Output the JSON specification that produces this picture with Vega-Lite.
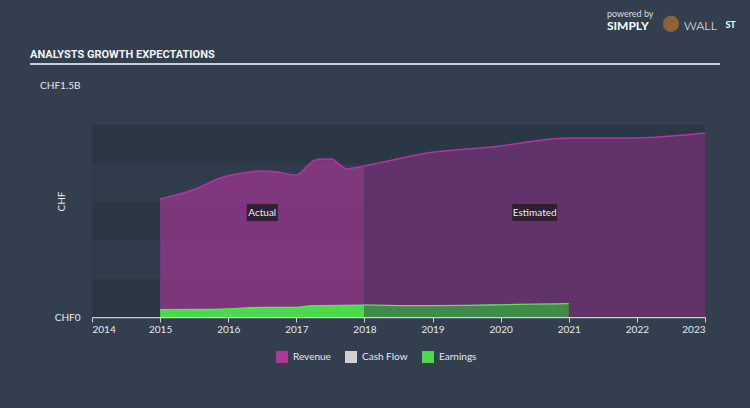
{
  "$schema": "https://vega.github.io/schema/vega-lite/v6.json",
  "width": 613,
  "height": 232,
  "autosize": {"type": "none"},
  "padding": {"left": 92, "top": 85, "right": 45, "bottom": 91},
  "background": "#333f4e",
  "config": {"view": {"stroke": null}, "font": "Lato"},
  "datasets": {
    "bands": [
      {"lo": 0, "hi": 248300000, "kind": "dark"},
      {"lo": 248300000, "hi": 496600000, "kind": "light"},
      {"lo": 496600000, "hi": 744900000, "kind": "dark"},
      {"lo": 744900000, "hi": 993200000, "kind": "light"},
      {"lo": 993200000, "hi": 1241500000, "kind": "dark"}
    ],
    "fin": [
      {"series": "Revenue", "phase": "Actual", "year": 2015.0, "value": 763000000},
      {"series": "Revenue", "phase": "Actual", "year": 2015.48, "value": 821000000},
      {"series": "Revenue", "phase": "Actual", "year": 2015.93, "value": 905000000},
      {"series": "Revenue", "phase": "Actual", "year": 2016.22, "value": 931000000},
      {"series": "Revenue", "phase": "Actual", "year": 2016.47, "value": 944000000},
      {"series": "Revenue", "phase": "Actual", "year": 2016.72, "value": 938000000},
      {"series": "Revenue", "phase": "Actual", "year": 2017.0, "value": 918000000},
      {"series": "Revenue", "phase": "Actual", "year": 2017.1, "value": 950000000},
      {"series": "Revenue", "phase": "Actual", "year": 2017.25, "value": 1009000000},
      {"series": "Revenue", "phase": "Actual", "year": 2017.35, "value": 1022000000},
      {"series": "Revenue", "phase": "Actual", "year": 2017.52, "value": 1022000000},
      {"series": "Revenue", "phase": "Actual", "year": 2017.64, "value": 983000000},
      {"series": "Revenue", "phase": "Actual", "year": 2017.74, "value": 957000000},
      {"series": "Revenue", "phase": "Actual", "year": 2017.83, "value": 963000000},
      {"series": "Revenue", "phase": "Actual", "year": 2018.0, "value": 976000000},
      {"series": "Revenue", "phase": "Estimated", "year": 2018.0, "value": 976000000},
      {"series": "Revenue", "phase": "Estimated", "year": 2018.28, "value": 1002000000},
      {"series": "Revenue", "phase": "Estimated", "year": 2018.92, "value": 1060000000},
      {"series": "Revenue", "phase": "Estimated", "year": 2019.5, "value": 1086000000},
      {"series": "Revenue", "phase": "Estimated", "year": 2020.0, "value": 1106000000},
      {"series": "Revenue", "phase": "Estimated", "year": 2020.5, "value": 1138000000},
      {"series": "Revenue", "phase": "Estimated", "year": 2021.0, "value": 1157000000},
      {"series": "Revenue", "phase": "Estimated", "year": 2022.0, "value": 1157000000},
      {"series": "Revenue", "phase": "Estimated", "year": 2022.5, "value": 1170000000},
      {"series": "Revenue", "phase": "Estimated", "year": 2023.0, "value": 1190000000},
      {"series": "Earnings", "phase": "Actual", "year": 2015.0, "value": 48000000},
      {"series": "Earnings", "phase": "Actual", "year": 2015.5, "value": 49000000},
      {"series": "Earnings", "phase": "Actual", "year": 2016.0, "value": 53000000},
      {"series": "Earnings", "phase": "Actual", "year": 2016.5, "value": 62000000},
      {"series": "Earnings", "phase": "Actual", "year": 2017.0, "value": 62000000},
      {"series": "Earnings", "phase": "Actual", "year": 2017.2, "value": 72000000},
      {"series": "Earnings", "phase": "Actual", "year": 2018.0, "value": 76000000},
      {"series": "Earnings", "phase": "Estimated", "year": 2018.0, "value": 78000000},
      {"series": "Earnings", "phase": "Estimated", "year": 2018.5, "value": 74000000},
      {"series": "Earnings", "phase": "Estimated", "year": 2019.0, "value": 73000000},
      {"series": "Earnings", "phase": "Estimated", "year": 2019.5, "value": 75000000},
      {"series": "Earnings", "phase": "Estimated", "year": 2020.0, "value": 79000000},
      {"series": "Earnings", "phase": "Estimated", "year": 2020.5, "value": 83000000},
      {"series": "Earnings", "phase": "Estimated", "year": 2021.0, "value": 87000000}
    ]
  },
  "layer": [
    {
      "data": {"name": "bands"},
      "mark": {"type": "rect"},
      "encoding": {
        "x": {"datum": 2014, "type": "quantitative", "scale": {"domain": [2014, 2023], "nice": false, "zero": false}},
        "x2": {"datum": 2023},
        "y": {"field": "lo", "type": "quantitative", "scale": {"domain": [0, 1500000000], "nice": false, "zero": true}},
        "y2": {"field": "hi"},
        "fill": {"field": "kind", "type": "nominal", "scale": {"domain": ["dark", "light"], "range": ["#2c3745", "#303c4b"]}, "legend": null}
      }
    },
    {
      "data": {"name": "fin"},
      "transform": [{"filter": "datum.series == 'Revenue' && datum.phase == 'Actual'"}],
      "mark": {"type": "area", "interpolate": "monotone", "fillOpacity": 0.62},
      "encoding": {
        "x": {"field": "year", "type": "quantitative", "scale": {"domain": [2014, 2023], "nice": false, "zero": false},
          "axis": {"values": [2014, 2015, 2016, 2017, 2018, 2019, 2020, 2021, 2022, 2023], "format": "d", "title": null, "grid": false,
            "domainColor": "#c9d0d8", "domainWidth": 1.5, "tickColor": "#c9d0d8", "tickSize": 5, "labelColor": "#e5e8ec", "labelFontSize": 10, "labelPadding": 2}},
        "y": {"field": "value", "type": "quantitative", "scale": {"domain": [0, 1500000000], "nice": false, "zero": true},
          "axis": {"values": [0, 1500000000], "labelExpr": "datum.value == 0 ? 'CHF0' : 'CHF1.5B'", "domain": false, "ticks": false, "tickSize": 0, "grid": false,
            "labelPadding": 12, "labelColor": "#e5e8ec", "labelFontSize": 10, "title": "CHF", "titleX": -31, "titleY": 116, "titleFontSize": 10,
            "titleFontWeight": "normal", "titleColor": "#e5e8ec", "titleBaseline": "middle", "titleAlign": "center"}},
        "color": {"field": "series", "type": "nominal",
          "scale": {"domain": ["Revenue", "Cash Flow", "Earnings"], "range": ["#b0369c", "#d0d0d0", "#4cd94c"]},
          "legend": {"orient": "none", "legendX": 184, "legendY": 266, "direction": "horizontal", "title": null, "symbolType": "square",
            "symbolSize": 144, "symbolOpacity": 1, "symbolStrokeWidth": 0, "labelColor": "#e5e8ec", "labelFontSize": 10, "columnPadding": 14, "labelOffset": 5}}
      }
    },
    {
      "data": {"name": "fin"},
      "transform": [{"filter": "datum.series == 'Revenue' && datum.phase == 'Estimated'"}],
      "mark": {"type": "area", "interpolate": "monotone", "fill": "#62336a"},
      "encoding": {
        "x": {"field": "year", "type": "quantitative"},
        "y": {"field": "value", "type": "quantitative"}
      }
    },
    {
      "data": {"name": "fin"},
      "transform": [{"filter": "datum.series == 'Earnings' && datum.phase == 'Actual'"}],
      "mark": {"type": "area", "interpolate": "monotone", "fillOpacity": 1},
      "encoding": {
        "x": {"field": "year", "type": "quantitative"},
        "y": {"field": "value", "type": "quantitative"},
        "color": {"field": "series", "type": "nominal"}
      }
    },
    {
      "data": {"name": "fin"},
      "transform": [{"filter": "datum.series == 'Earnings' && datum.phase == 'Estimated'"}],
      "mark": {"type": "area", "interpolate": "monotone", "fill": "#438a4a"},
      "encoding": {
        "x": {"field": "year", "type": "quantitative"},
        "y": {"field": "value", "type": "quantitative"}
      }
    },
    {
      "data": {"name": "fin"},
      "transform": [{"filter": "datum.series == 'Revenue'"}],
      "mark": {"type": "line", "interpolate": "monotone", "stroke": "#b0379d", "strokeWidth": 1.5},
      "encoding": {
        "x": {"field": "year", "type": "quantitative"},
        "y": {"field": "value", "type": "quantitative"},
        "detail": {"field": "phase"}
      }
    },
    {
      "data": {"name": "fin"},
      "transform": [{"filter": "datum.series == 'Earnings'"}],
      "mark": {"type": "line", "interpolate": "monotone", "stroke": "#58e658", "strokeWidth": 1.3},
      "encoding": {
        "x": {"field": "year", "type": "quantitative"},
        "y": {"field": "value", "type": "quantitative"},
        "detail": {"field": "phase"}
      }
    },
    {
      "data": {"values": [{}]},
      "mark": {"type": "point", "filled": true, "shape": "M-0.689,-0.378L0.689,-0.378L0.689,0.378L-0.689,0.378Z", "size": 2025, "color": "#2a1c2e", "opacity": 0.92},
      "encoding": {"x": {"datum": 2016.5, "type": "quantitative"}, "y": {"datum": 675000000, "type": "quantitative"}}
    },
    {
      "data": {"values": [{}]},
      "mark": {"type": "text", "text": "Actual", "color": "#eeeeee", "fontSize": 10},
      "encoding": {"x": {"datum": 2016.5, "type": "quantitative"}, "y": {"datum": 675000000, "type": "quantitative"}}
    },
    {
      "data": {"values": [{}]},
      "mark": {"type": "point", "filled": true, "shape": "M-1,-0.378L1,-0.378L1,0.378L-1,0.378Z", "size": 2025, "color": "#2a1c2e", "opacity": 0.92},
      "encoding": {"x": {"datum": 2020.5, "type": "quantitative"}, "y": {"datum": 675000000, "type": "quantitative"}}
    },
    {
      "data": {"values": [{}]},
      "mark": {"type": "text", "text": "Estimated", "color": "#eeeeee", "fontSize": 10},
      "encoding": {"x": {"datum": 2020.5, "type": "quantitative"}, "y": {"datum": 675000000, "type": "quantitative"}}
    },
    {
      "data": {"values": [{}]},
      "mark": {"type": "text", "text": "ANALYSTS GROWTH EXPECTATIONS", "align": "left", "baseline": "alphabetic", "color": "#f2f2f2",
        "font": "Roboto", "fontSize": 11, "fontWeight": "bold"},
      "encoding": {"x": {"datum": 2013.09, "type": "quantitative"}, "y": {"datum": 1675000000, "type": "quantitative"}}
    },
    {
      "data": {"values": [{}]},
      "mark": {"type": "rule", "color": "#c8ced6", "strokeWidth": 2},
      "encoding": {"x": {"datum": 2013.09, "type": "quantitative"}, "x2": {"datum": 2023.22}, "y": {"datum": 1636000000, "type": "quantitative"}}
    },
    {
      "data": {"values": [{}]},
      "mark": {"type": "text", "text": "powered by", "align": "left", "color": "#d8dde3", "fontSize": 9},
      "encoding": {"x": {"datum": 2021.56, "type": "quantitative"}, "y": {"datum": 1960000000, "type": "quantitative"}}
    },
    {
      "data": {"values": [{}]},
      "mark": {"type": "text", "text": "SIMPLY", "align": "left", "color": "#ffffff", "fontSize": 12, "fontWeight": "bold"},
      "encoding": {"x": {"datum": 2021.56, "type": "quantitative"}, "y": {"datum": 1882000000, "type": "quantitative"}}
    },
    {
      "data": {"values": [{}]},
      "mark": {"type": "point", "filled": true, "shape": "circle", "size": 260, "color": "#8d6236", "opacity": 1},
      "encoding": {"x": {"datum": 2022.5, "type": "quantitative"}, "y": {"datum": 1895000000, "type": "quantitative"}}
    },
    {
      "data": {"values": [{}]},
      "mark": {"type": "text", "text": "WALL", "align": "left", "color": "#ffffff", "fontSize": 12.5, "fontWeight": 300},
      "encoding": {"x": {"datum": 2022.69, "type": "quantitative"}, "y": {"datum": 1882000000, "type": "quantitative"}}
    },
    {
      "data": {"values": [{}]},
      "mark": {"type": "text", "text": "ST", "align": "left", "color": "#ffffff", "fontSize": 9, "fontWeight": "bold"},
      "encoding": {"x": {"datum": 2023.3, "type": "quantitative"}, "y": {"datum": 1885000000, "type": "quantitative"}}
    }
  ]
}
